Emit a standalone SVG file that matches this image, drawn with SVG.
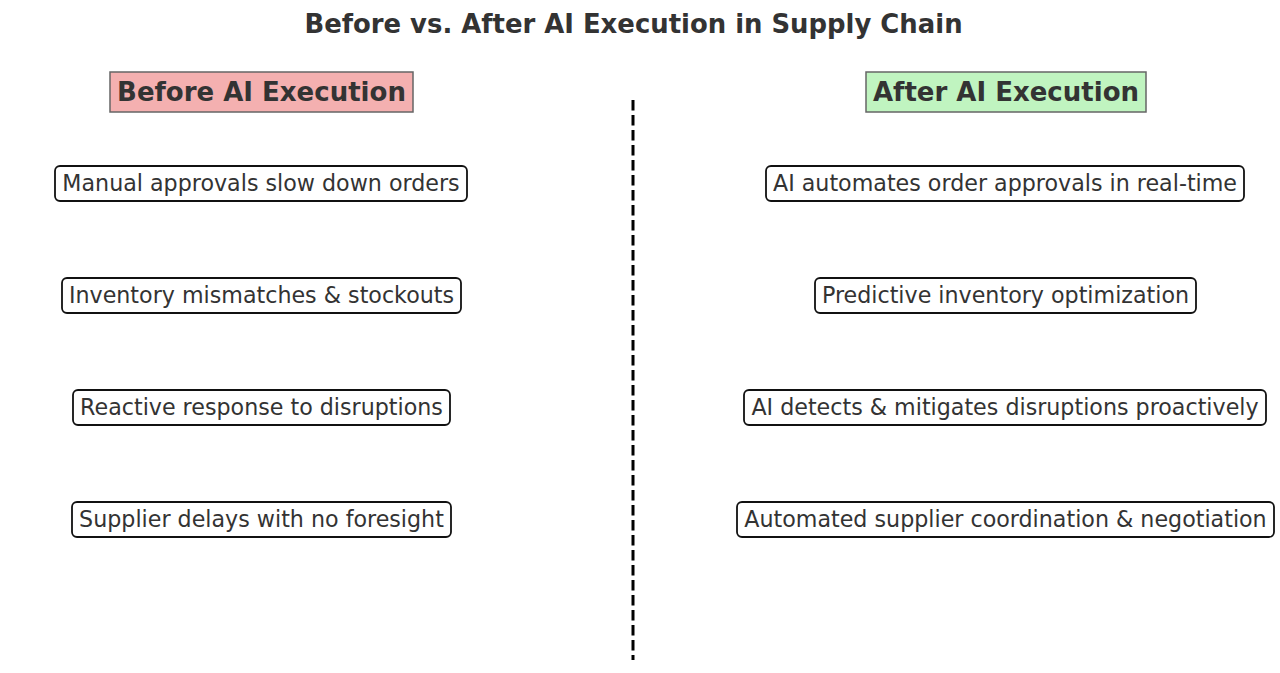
<svg xmlns="http://www.w3.org/2000/svg" width="1280" height="673" viewBox="0 0 1280 673">
<style>
.t{font-family:"DejaVu Sans",sans-serif;fill:#333;text-anchor:middle;dominant-baseline:central}
.title{font-size:25.9px;font-weight:bold}
.hdr{font-size:26px;font-weight:bold}
.item{font-size:22.2px}
.box{fill:#fff;stroke:#111;stroke-width:1.8}
.hb{stroke:#666;stroke-width:1.5}
</style>
<rect width="1280" height="673" fill="#fff"/>
<text class="t title" x="633.5" y="24">Before vs. After AI Execution in Supply Chain</text>
<g id="connectors">
<line x1="633" y1="100" x2="633" y2="660" stroke="#000" stroke-width="3" stroke-dasharray="10.5 4.5"/>
</g>
<g id="before-header"><rect class="hb" x="110" y="72" width="303" height="40" fill="#f4b0b0"/><text class="t hdr" x="261.5" y="92">Before AI Execution</text></g>
<g id="after-header"><rect class="hb" x="866" y="72" width="280" height="40" fill="#c0f4c0"/><text class="t hdr" x="1006" y="92">After AI Execution</text></g>
<g id="b1"><rect class="box" x="55" y="166" width="412" height="35" rx="5"/><text class="t item" x="261" y="183">Manual approvals slow down orders</text></g>
<g id="b2"><rect class="box" x="62" y="278" width="399" height="35" rx="5"/><text class="t item" x="261.5" y="295">Inventory mismatches &amp; stockouts</text></g>
<g id="b3"><rect class="box" x="73" y="390" width="377" height="35" rx="5"/><text class="t item" x="261.5" y="407">Reactive response to disruptions</text></g>
<g id="b4"><rect class="box" x="72" y="502" width="379" height="35" rx="5"/><text class="t item" x="261.5" y="519">Supplier delays with no foresight</text></g>
<g id="a1"><rect class="box" x="766" y="166" width="478" height="35" rx="5"/><text class="t item" x="1005" y="183">AI automates order approvals in real-time</text></g>
<g id="a2"><rect class="box" x="815" y="278" width="381" height="35" rx="5"/><text class="t item" x="1005.5" y="295">Predictive inventory optimization</text></g>
<g id="a3"><rect class="box" x="744" y="390" width="522" height="35" rx="5"/><text class="t item" x="1005" y="407">AI detects &amp; mitigates disruptions proactively</text></g>
<g id="a4"><rect class="box" x="737" y="502" width="537" height="35" rx="5"/><text class="t item" x="1005.5" y="519">Automated supplier coordination &amp; negotiation</text></g>
</svg>
